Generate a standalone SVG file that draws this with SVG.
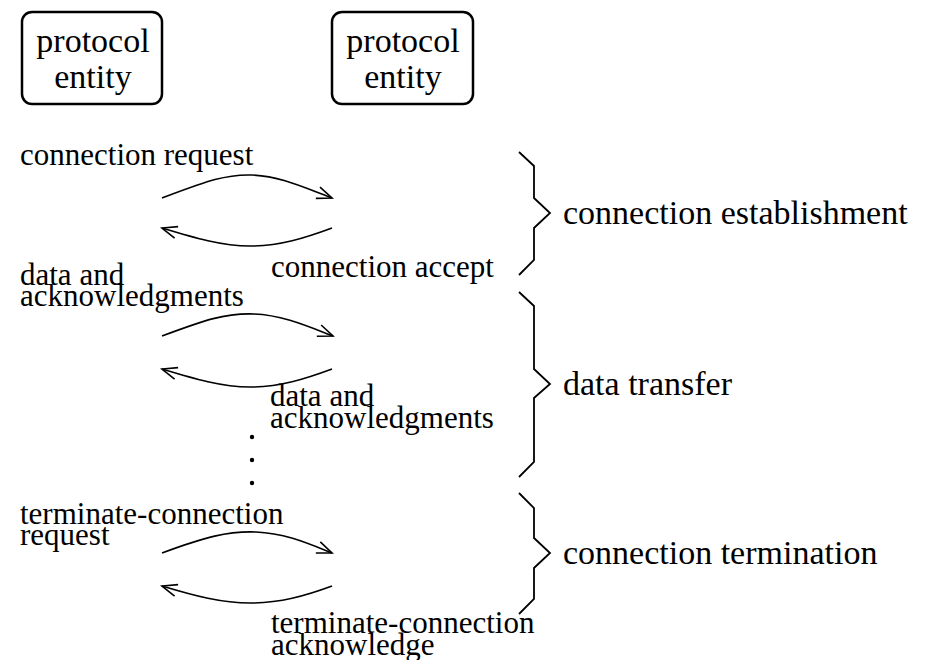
<svg xmlns="http://www.w3.org/2000/svg" width="930" height="660" viewBox="0 0 930 660">
<style>
.box{fill:#fff;stroke:#000;stroke-width:2.5}
text{font-family:'Liberation Serif','Times New Roman',serif;fill:#000}
.big{font-size:34px}
.sm{font-size:31px}
.line{fill:none;stroke:#000;stroke-width:1.6}
.brace{fill:none;stroke:#000;stroke-width:1.8;stroke-linejoin:miter}
</style>
<defs>
<marker id="ah" markerUnits="userSpaceOnUse" viewBox="-17 -8 19 16" refX="0" refY="0" markerWidth="19" markerHeight="16" orient="auto">
<path d="M-15,-6 L0,0 L-15,6" fill="none" stroke="#000" stroke-width="1.6"/>
</marker>
</defs>
<g id="entity-left">
<rect class="box" x="22" y="12" width="140" height="92" rx="10"/>
<text class="big" x="93" y="52" text-anchor="middle">protocol</text>
<text class="big" x="93" y="88" text-anchor="middle">entity</text>
</g>
<g id="entity-right">
<rect class="box" x="332" y="12" width="141" height="92" rx="10"/>
<text class="big" x="403" y="52" text-anchor="middle">protocol</text>
<text class="big" x="403" y="88" text-anchor="middle">entity</text>
</g>
<g id="connectors">
<path class="line" marker-end="url(#ah)" d="M162,198 C205,182 225,174 252,175 C280,176 305,188 332,198"/>
<path class="line" marker-end="url(#ah)" d="M332,228 C305,238 280,246 250,246 C222,246 195,238 162,228"/>
<path class="line" marker-end="url(#ah)" d="M162,336 C205,320 225,313 254,314 C282,315 307,326 333,336"/>
<path class="line" marker-end="url(#ah)" d="M332,369 C305,379 280,387 250,387 C222,387 195,379 162,369"/>
<path class="line" marker-end="url(#ah)" d="M162,553 C205,537 228,531 256,532 C284,533 307,543 332,553"/>
<path class="line" marker-end="url(#ah)" d="M332,586 C305,596 280,603 250,603 C222,603 195,596 162,586"/>
</g>
<g id="brace-establishment">
<path class="brace" d="M519,152 L534,166 L534,198 L550,213 L534,228 L534,260 L519,275"/>
</g>
<g id="brace-transfer">
<path class="brace" d="M519,292 L534,306 L534,369 L550,384 L534,398 L534,462 L519,477"/>
</g>
<g id="brace-termination">
<path class="brace" d="M519,493 L534,508 L534,538 L550,553 L534,568 L534,599 L519,614"/>
</g>
<g id="labels">
<text class="sm" x="20" y="165">connection request</text>
<text class="sm" x="271" y="277">connection accept</text>
<text class="sm" x="20" y="285">data and</text>
<text class="sm" x="20" y="306">acknowledgments</text>
<text class="sm" x="270" y="406">data and</text>
<text class="sm" x="270" y="428">acknowledgments</text>
<text class="sm" x="20" y="524">terminate-connection</text>
<text class="sm" x="20" y="545">request</text>
<text class="sm" x="271" y="633">terminate-connection</text>
<text class="sm" x="271" y="655">acknowledge</text>
<text class="big" x="563" y="224">connection establishment</text>
<text class="big" x="563" y="395">data transfer</text>
<text class="big" x="563" y="564">connection termination</text>
</g>
<g id="ellipsis">
<circle cx="252" cy="437" r="2.2"/>
<circle cx="252" cy="460" r="2.2"/>
<circle cx="252" cy="483" r="2.2"/>
</g>
</svg>
